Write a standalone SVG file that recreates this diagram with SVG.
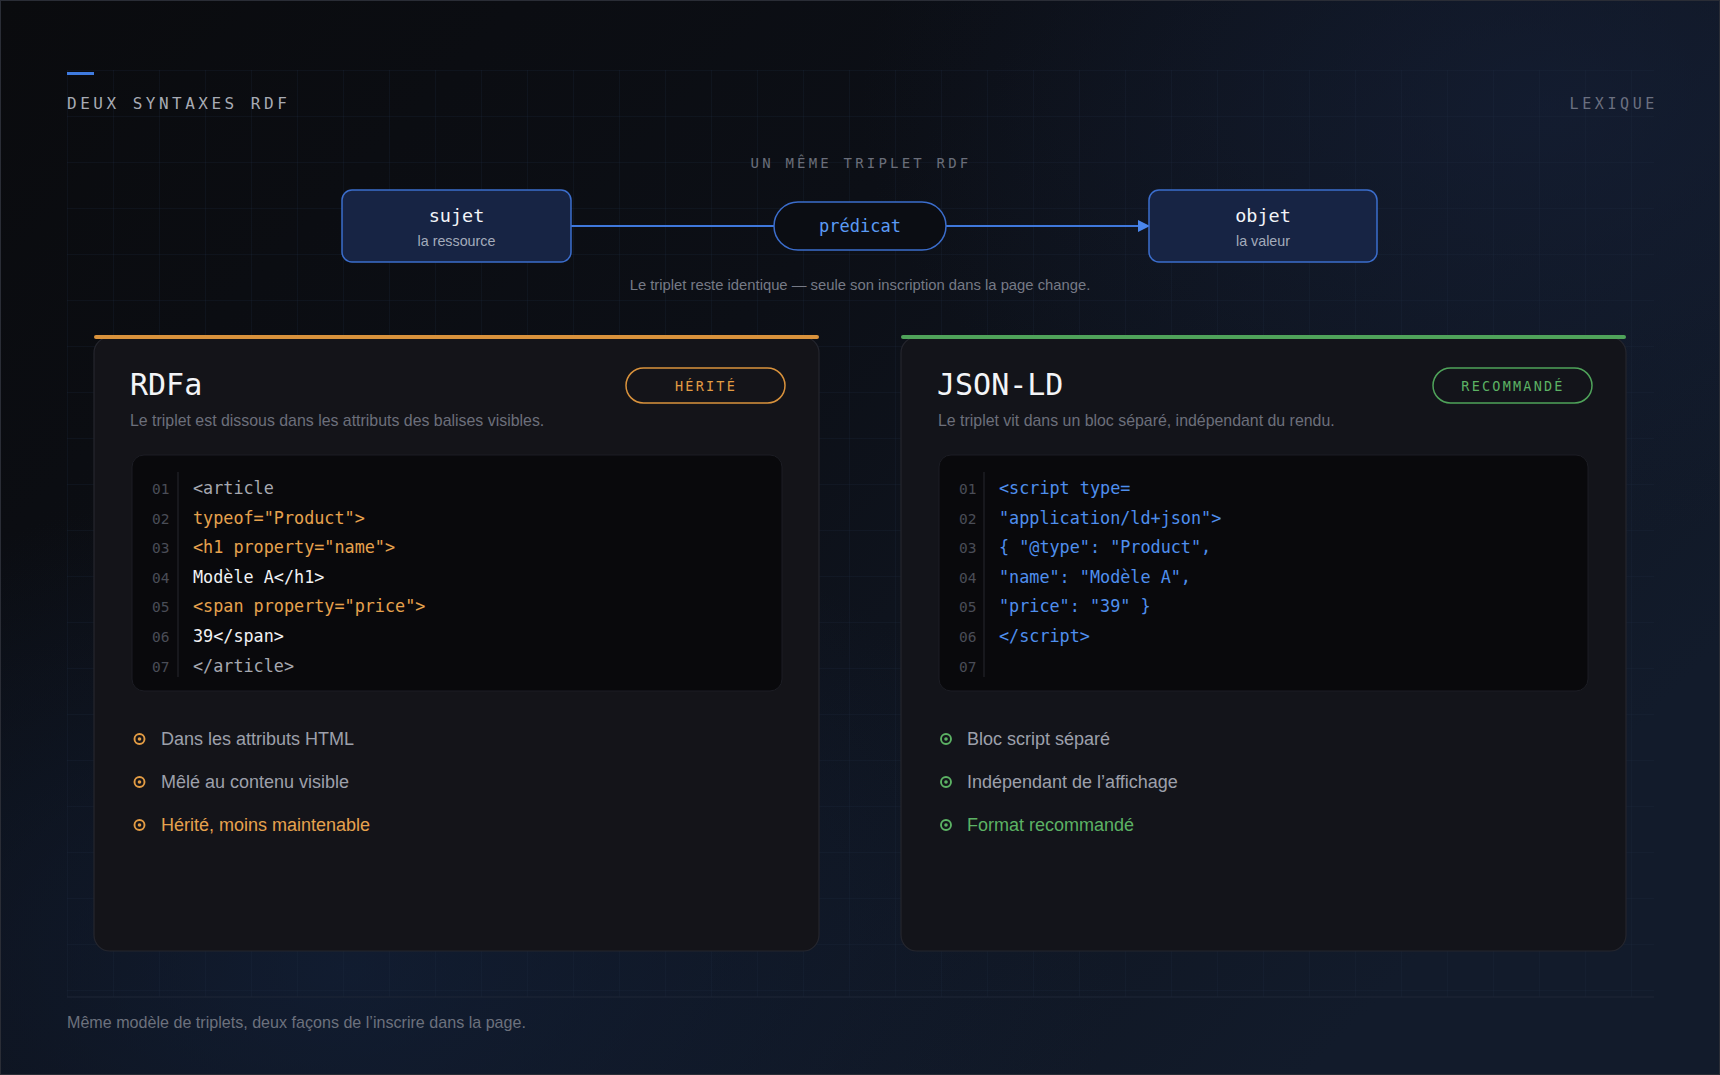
<svg xmlns="http://www.w3.org/2000/svg" width="1720" height="1075" viewBox="0 0 1720 1075">
  <defs>
    <linearGradient id="bg" x1="0" y1="0" x2="1" y2="0.6">
      <stop offset="0" stop-color="#0a0b0e"/>
      <stop offset="0.45" stop-color="#0c0f16"/>
      <stop offset="1" stop-color="#121b2b"/>
    </linearGradient>
    <radialGradient id="glowBL" cx="0.2" cy="0.9" r="0.45">
      <stop offset="0" stop-color="#13213a" stop-opacity="0.7"/>
      <stop offset="1" stop-color="#13213a" stop-opacity="0"/>
    </radialGradient>
    <radialGradient id="glowTR" cx="0.9" cy="0.1" r="0.4">
      <stop offset="0" stop-color="#16213a" stop-opacity="0.6"/>
      <stop offset="1" stop-color="#16213a" stop-opacity="0"/>
    </radialGradient>
    <pattern id="grid" x="67" y="70" width="46" height="46" patternUnits="userSpaceOnUse">
      <path d="M0 0 H46 M0 0 V46" fill="none" stroke="#1e2a40" stroke-width="1" stroke-opacity="0.45"/>
    </pattern>
    <marker id="arrow" viewBox="0 0 12 12" refX="11" refY="6" markerWidth="12" markerHeight="12" markerUnits="userSpaceOnUse" orient="auto">
      <path d="M0 0 L12 6 L0 12 Z" fill="#4a86ec"/>
    </marker>
    <style>
      .mono { font-family: "DejaVu Sans Mono", "Liberation Mono", monospace; }
      .sans { font-family: "Liberation Sans", Arial, sans-serif; }
      .node { fill: #172444; stroke: #3b6dcc; stroke-width: 1.5; }
      .nodeTitle { font-family: "DejaVu Sans Mono", monospace; font-size: 18.5px; fill: #f2f4f8; text-anchor: middle; }
      .nodeSub { font-family: "Liberation Sans", Arial, sans-serif; font-size: 14.3px; fill: #a3abbb; text-anchor: middle; }
      .edge { stroke: #3f78dc; stroke-width: 2; fill: none; }
      .panel { stroke: #25262e; stroke-width: 1.2; }
      .code { fill: #09090c; stroke: #1c1d24; stroke-width: 1; }
      .ln { font-family: "DejaVu Sans Mono", monospace; font-size: 14.5px; fill: #4a4d57; }
      .cd { font-family: "DejaVu Sans Mono", monospace; font-size: 16.8px; }
      .sep { stroke: #23242b; stroke-width: 1.2; }
      .ptitle { font-family: "DejaVu Sans Mono", monospace; font-size: 30px; fill: #f3f4f7; }
      .psub { font-family: "Liberation Sans", Arial, sans-serif; font-size: 15.9px; fill: #6c6f7b; }
      .badge { font-family: "DejaVu Sans Mono", monospace; font-size: 13.5px; letter-spacing: 2.2px; text-anchor: middle; }
      .bul { font-family: "Liberation Sans", Arial, sans-serif; font-size: 18px; fill: #9da0ab; }
      .gray { fill: #a6a8b0; }
      .org { fill: #e6a24e; }
      .wht { fill: #f1f2f4; }
      .blu { fill: #4f8fee; }
    </style>
  </defs>

  <!-- background -->
  <rect width="1720" height="1075" fill="url(#bg)"/>
  <rect width="1720" height="1075" fill="url(#glowBL)"/>
  <rect width="1720" height="1075" fill="url(#glowTR)"/>
  <rect x="67" y="70" width="1587" height="927" fill="url(#grid)"/>
  <rect x="0.5" y="0.5" width="1719" height="1074" fill="none" stroke="#2a2d36" stroke-width="1"/>

  <!-- header -->
  <g id="header">
    <rect x="67" y="72" width="27" height="3" fill="#3f7be0"/>
    <text x="67" y="109" class="mono" font-size="16" letter-spacing="3.5" fill="#a8abb4">DEUX SYNTAXES RDF</text>
    <text x="1658" y="109" class="mono" font-size="15" letter-spacing="3.6" fill="#6b7080" text-anchor="end">LEXIQUE</text>
    <text x="861" y="168" class="mono" font-size="14" letter-spacing="3.2" fill="#6a6e7a" text-anchor="middle">UN MÊME TRIPLET RDF</text>
  </g>

  <!-- connectors -->
  <g id="connectors">
    <line x1="571" y1="226" x2="774" y2="226" class="edge"/>
    <line x1="946" y1="226" x2="1149" y2="226" class="edge" marker-end="url(#arrow)"/>
  </g>

  <!-- triplet nodes -->
  <g id="node-sujet">
    <rect x="342" y="190" width="229" height="72" rx="10" class="node"/>
    <text x="456.5" y="222" class="nodeTitle">sujet</text>
    <text x="456.5" y="246" class="nodeSub">la ressource</text>
  </g>
  <g id="node-predicat">
    <rect x="774" y="202" width="172" height="48" rx="24" fill="#0b0d13" stroke="#3b6dcc" stroke-width="1.5"/>
    <text x="860" y="232" class="mono" font-size="17" fill="#5b9bf5" text-anchor="middle">prédicat</text>
  </g>
  <g id="node-objet">
    <rect x="1149" y="190" width="228" height="72" rx="10" class="node"/>
    <text x="1263" y="222" class="nodeTitle">objet</text>
    <text x="1263" y="246" class="nodeSub">la valeur</text>
  </g>
  <text x="860" y="290" class="sans" font-size="14.8" fill="#767a86" text-anchor="middle">Le triplet reste identique — seule son inscription dans la page change.</text>

  <!-- RDFa panel -->
  <g id="panel-rdfa">
    <rect x="94" y="337" width="725" height="614" rx="16" fill="#141419" class="panel"/>
    <rect x="94" y="335" width="725" height="4" rx="2" fill="#d9923c"/>
    <text x="130" y="395" class="ptitle">RDFa</text>
    <rect x="626" y="368" width="159" height="35" rx="17.5" fill="none" stroke="#d9923c" stroke-width="1.5"/>
    <text x="706" y="390.5" class="badge" fill="#e39c44">HÉRITÉ</text>
    <text x="130" y="426" class="psub">Le triplet est dissous dans les attributs des balises visibles.</text>

    <rect x="132" y="455" width="650" height="236" rx="12" class="code"/>
    <line x1="178" y1="472" x2="178" y2="677" class="sep"/>
    <text class="ln">
      <tspan x="152" y="494">01</tspan>
      <tspan x="152" y="523.6">02</tspan>
      <tspan x="152" y="553.2">03</tspan>
      <tspan x="152" y="582.8">04</tspan>
      <tspan x="152" y="612.4">05</tspan>
      <tspan x="152" y="642">06</tspan>
      <tspan x="152" y="671.6">07</tspan>
    </text>
    <text class="cd">
      <tspan x="193" y="494" class="gray">&lt;article</tspan>
      <tspan x="193" y="523.6" class="org">typeof="Product"&gt;</tspan>
      <tspan x="193" y="553.2" class="org">&lt;h1 property="name"&gt;</tspan>
      <tspan x="193" y="582.8" class="wht">Modèle A&lt;/h1&gt;</tspan>
      <tspan x="193" y="612.4" class="org">&lt;span property="price"&gt;</tspan>
      <tspan x="193" y="642" class="wht">39&lt;/span&gt;</tspan>
      <tspan x="193" y="671.6" class="gray">&lt;/article&gt;</tspan>
    </text>

    <g fill="none" stroke="#e39c44" stroke-width="1.9">
      <circle cx="139.5" cy="739" r="5"/>
      <circle cx="139.5" cy="782" r="5"/>
      <circle cx="139.5" cy="825" r="5"/>
    </g>
    <g fill="#e39c44">
      <circle cx="139.5" cy="739" r="1.8"/>
      <circle cx="139.5" cy="782" r="1.8"/>
      <circle cx="139.5" cy="825" r="1.8"/>
    </g>
    <text x="161" y="745" class="bul">Dans les attributs HTML</text>
    <text x="161" y="788" class="bul">Mêlé au contenu visible</text>
    <text x="161" y="831" class="bul" style="fill:#e6a24e">Hérité, moins maintenable</text>
  </g>

  <!-- JSON-LD panel -->
  <g id="panel-jsonld">
    <rect x="901" y="337" width="725" height="614" rx="16" fill="#13141a" class="panel"/>
    <rect x="901" y="335" width="725" height="4" rx="2" fill="#4fa35a"/>
    <text x="937" y="395" class="ptitle">JSON-LD</text>
    <rect x="1433" y="368" width="159" height="35" rx="17.5" fill="none" stroke="#4fa35a" stroke-width="1.5"/>
    <text x="1513" y="390.5" class="badge" fill="#5cb264">RECOMMANDÉ</text>
    <text x="938" y="426" class="psub">Le triplet vit dans un bloc séparé, indépendant du rendu.</text>

    <rect x="939" y="455" width="649" height="236" rx="12" class="code"/>
    <line x1="984" y1="472" x2="984" y2="677" class="sep"/>
    <text class="ln">
      <tspan x="959" y="494">01</tspan>
      <tspan x="959" y="523.6">02</tspan>
      <tspan x="959" y="553.2">03</tspan>
      <tspan x="959" y="582.8">04</tspan>
      <tspan x="959" y="612.4">05</tspan>
      <tspan x="959" y="642">06</tspan>
      <tspan x="959" y="671.6">07</tspan>
    </text>
    <text class="cd blu">
      <tspan x="999" y="494">&lt;script type=</tspan>
      <tspan x="999" y="523.6">"application/ld+json"&gt;</tspan>
      <tspan x="999" y="553.2">{ "@type": "Product",</tspan>
      <tspan x="999" y="582.8">"name": "Modèle A",</tspan>
      <tspan x="999" y="612.4">"price": "39" }</tspan>
      <tspan x="999" y="642">&lt;/script&gt;</tspan>
    </text>

    <g fill="none" stroke="#5cb264" stroke-width="1.9">
      <circle cx="946" cy="739" r="5"/>
      <circle cx="946" cy="782" r="5"/>
      <circle cx="946" cy="825" r="5"/>
    </g>
    <g fill="#5cb264">
      <circle cx="946" cy="739" r="1.8"/>
      <circle cx="946" cy="782" r="1.8"/>
      <circle cx="946" cy="825" r="1.8"/>
    </g>
    <text x="967" y="745" class="bul">Bloc script séparé</text>
    <text x="967" y="788" class="bul">Indépendant de l’affichage</text>
    <text x="967" y="831" class="bul" style="fill:#5cb264">Format recommandé</text>
  </g>

  <!-- footer -->
  <g id="footer">
    <line x1="67" y1="997" x2="1654" y2="997" stroke="#1e2636" stroke-width="1"/>
    <text x="67" y="1028" class="sans" font-size="16.1" fill="#6c717d">Même modèle de triplets, deux façons de l’inscrire dans la page.</text>
  </g>
</svg>
